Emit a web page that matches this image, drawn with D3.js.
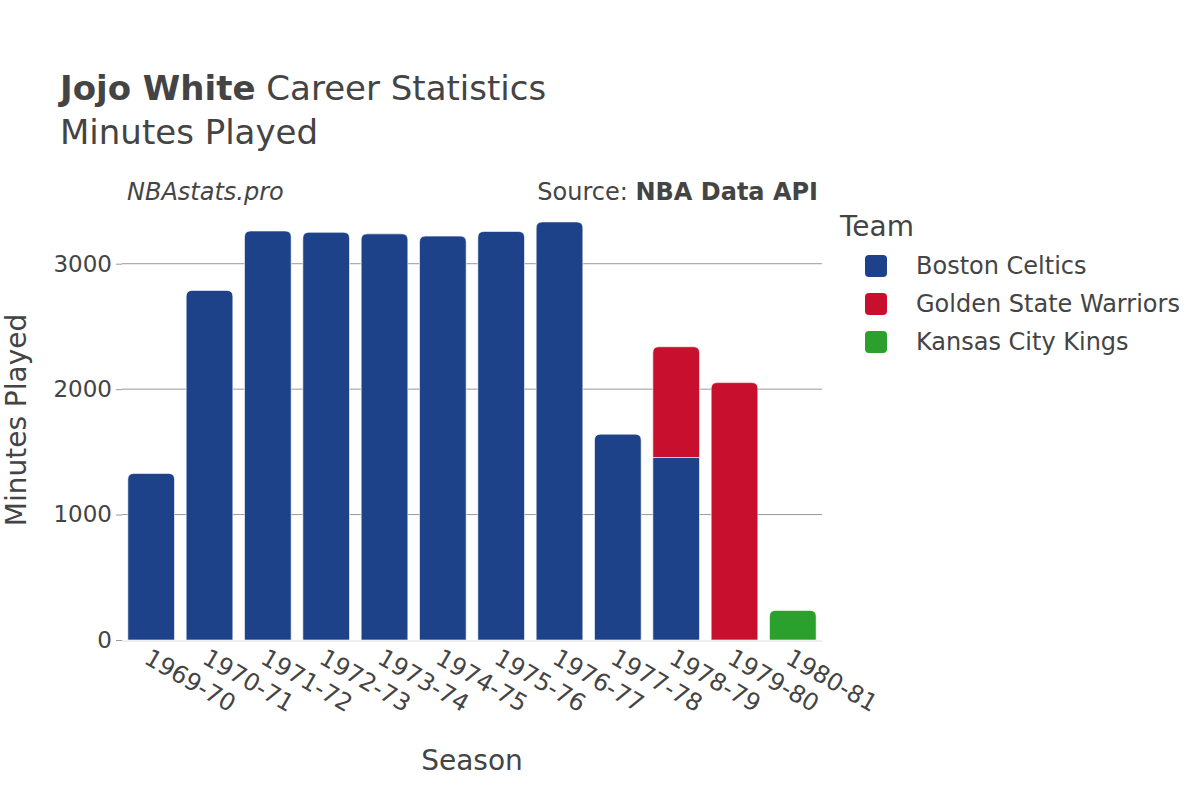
<!DOCTYPE html>
<html><head><meta charset="utf-8">
<script src="https://cdn.jsdelivr.net/npm/d3@7"></script>
<style>body{margin:0;background:#fff}svg{font-family:"DejaVu Sans",sans-serif}</style>
</head><body><svg id="c" width="1200" height="800"></svg>
<script>
const seasons = ["1969-70","1970-71","1971-72","1972-73","1973-74","1974-75","1975-76","1976-77","1977-78","1978-79","1979-80","1980-81"];
const teams = ["Boston Celtics","Golden State Warriors","Kansas City Kings"];
const colors = ["#1d428a","#c8102e","#2ca02c"];
const boston = [1328,2787,3261,3250,3238,3220,3257,3333,1641,1455,0,0];
const warriors = [0,0,0,0,0,0,0,0,0,883,2052,0];
const kings = [0,0,0,0,0,0,0,0,0,0,0,236];
const yTicks = [0,1000,2000,3000];

const svg = d3.select("#c");
const m = {l:122, r:822, t:201, b:640};
const x = d3.scaleBand().domain(seasons).range([m.l, m.r]).paddingInner(0.2).paddingOuter(0.1);
const y = d3.scaleLinear().domain([0,3500]).range([m.b, m.t]);

// grid
svg.append("g").selectAll("line").data(yTicks.filter(d=>d>0)).join("line")
  .attr("x1",m.l).attr("x2",m.r).attr("y1",d=>y(d)).attr("y2",d=>y(d))
  .attr("stroke","#999").attr("stroke-width",1);

// y axis
const ya = svg.append("g").attr("transform",`translate(${m.l},0)`)
  .call(d3.axisLeft(y).tickValues(yTicks).tickSize(6).tickFormat(d3.format("d")));
ya.select(".domain").remove();
ya.selectAll(".tick line").attr("stroke","#999");
ya.selectAll("text").attr("font-size",23).attr("fill","#444").attr("font-family","DejaVu Sans").attr("dx","-1");

// stacked data
const series = [boston, warriors, kings];
const stacks = [];
seasons.forEach((s,i)=>{
  let base=0;
  const segs=[];
  series.forEach((arr,k)=>{ if(arr[i]>0){ segs.push({s, k, y0:base, y1:base+arr[i]}); base+=arr[i]; } });
  segs.forEach((g,j)=>{ g.top = (j===segs.length-1); stacks.push(g); });
});

function barPath(d){
  const x0=x(d.s), w=x.bandwidth();
  const yt=y(d.y1), yb=y(d.y0);
  const r = d.top ? Math.min(6,(yb-yt)/2) : 0;
  return `M${x0},${yb}V${yt+r}Q${x0},${yt} ${x0+r},${yt}H${x0+w-r}Q${x0+w},${yt} ${x0+w},${yt+r}V${yb}Z`;
}
svg.append("g").selectAll("path").data(stacks).join("path")
  .attr("d",barPath).attr("fill",d=>colors[d.k])
  .attr("stroke","#fff").attr("stroke-opacity",0.6).attr("stroke-width",1);

// zero line
svg.append("line").attr("x1",m.l).attr("x2",m.r).attr("y1",y(0)+1).attr("y2",y(0)+1)
  .attr("stroke","#eee").attr("stroke-width",2);

// x axis
const xa = svg.append("g").attr("transform",`translate(0,${m.b})`)
  .call(d3.axisBottom(x).tickSize(0));
xa.select(".domain").remove();
xa.selectAll("text").attr("font-size",24).attr("fill","#444").attr("font-family","DejaVu Sans")
  .attr("text-anchor","start").attr("dy",0)
  .attr("transform","translate(-7,20) rotate(30)");

// titles
const t = svg.append("text").attr("x",60).attr("y",100).attr("font-size",34).attr("fill","#444");
t.append("tspan").attr("font-weight","bold").text("Jojo White");
t.append("tspan").text(" Career Statistics");
svg.append("text").attr("x",60).attr("y",144).attr("font-size",34).attr("fill","#444").text("Minutes Played");

svg.append("text").attr("x",127).attr("y",200).attr("font-size",24).attr("font-style","italic").attr("fill","#444").text("NBAstats.pro");
const src = svg.append("text").attr("x",818).attr("y",200).attr("text-anchor","end").attr("font-size",24).attr("fill","#444");
src.append("tspan").text("Source: ");
src.append("tspan").attr("font-weight","bold").text("NBA Data API");

svg.append("text").attr("x",472).attr("y",770).attr("text-anchor","middle").attr("font-size",28).attr("fill","#444").text("Season");
svg.append("text").attr("transform","translate(26,420) rotate(-90)").attr("text-anchor","middle").attr("font-size",28).attr("fill","#444").text("Minutes Played");

// legend
const lg = svg.append("g");
lg.append("text").attr("x",840).attr("y",236).attr("font-size",28).attr("fill","#444").text("Team");
teams.forEach((tm,i)=>{
  const yy = 266 + i*38;
  lg.append("rect").attr("x",865).attr("y",yy-11).attr("width",22).attr("height",22).attr("rx",4).attr("fill",colors[i]);
  lg.append("text").attr("x",916).attr("y",yy+8).attr("font-size",24).attr("fill","#444").text(tm);
});
</script></body></html>
